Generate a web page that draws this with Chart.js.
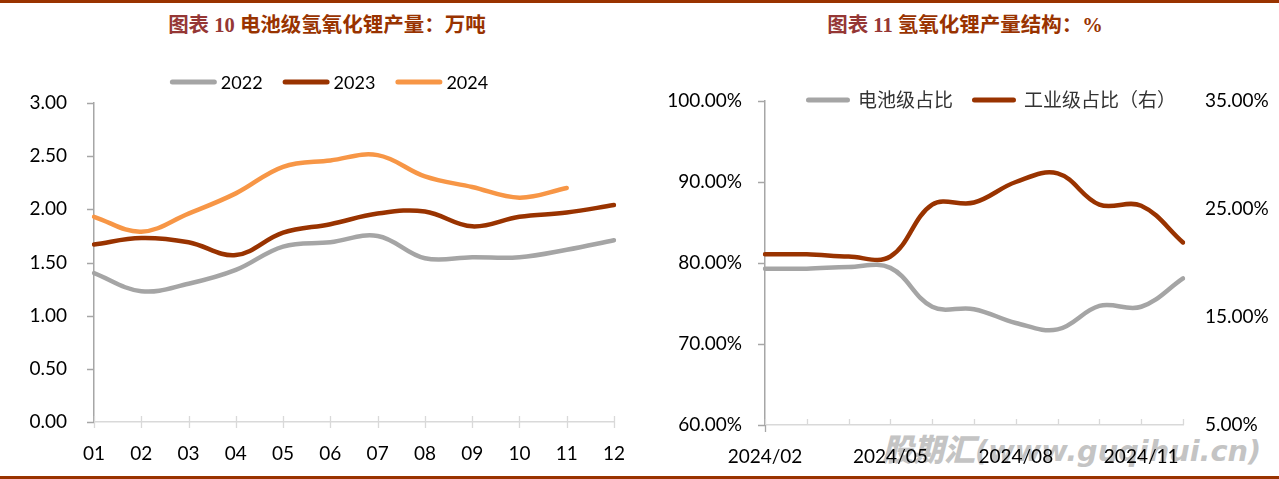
<!DOCTYPE html>
<html>
<head>
<meta charset="utf-8">
<script src="https://cdn.jsdelivr.net/npm/chart.js@4.4.1/dist/chart.umd.min.js"></script>
<style>
  html, body { margin: 0; padding: 0; background: #fff; }
  body { width: 1279px; height: 479px; position: relative; overflow: hidden; }
  .bar { position: absolute; left: 0; width: 1279px; height: 3px; background: #993300; }
  .title { position: absolute; top: 12px; height: 26px; line-height: 26px; text-align: center;
           font-family: "Liberation Serif", "Noto Sans CJK SC", serif; font-weight: bold; font-size: 20.5px; color: #993300; white-space: nowrap; }
  .title .lead { color: #953735; }
  .box { position: absolute; top: 0; height: 479px; z-index: 2; }
  .wm { position: absolute; left: 882px; top: 431px; z-index: 1; color: #c4c4c4; white-space: nowrap; line-height: 34px; font-style: italic; font-weight: bold; }
  .wm .cn { font-family: "Noto Sans CJK SC"; font-weight: 900; font-size: 31px; }
  .wm .en { font-family: "DejaVu Sans"; font-size: 28.8px; }
</style>
</head>
<body>
<div class="bar" style="top:0"></div>
<div class="bar" style="top:476px"></div>
<div class="title" style="left:0;width:654px"><span class="lead">图表 10</span> 电池级氢氧化锂产量：万吨</div>
<div class="title" style="left:651px;width:628px"><span class="lead">图表 11</span> 氢氧化锂产量结构：%</div>
<div class="wm"><span class="cn">股期汇</span><span class="en">(www.guqihui.cn)</span></div>
<div class="box" style="left:0;width:640px"><canvas id="c1"></canvas></div>
<div class="box" style="left:640px;width:639px"><canvas id="c2"></canvas></div>
<script>
// ---- data: chart 10 (万吨) ----
const months = ['01','02','03','04','05','06','07','08','09','10','11','12'];
const y2022 = [1.40, 1.23, 1.30, 1.43, 1.65, 1.69, 1.75, 1.54, 1.55, 1.55, 1.62, 1.71];
const y2023 = [1.67, 1.73, 1.69, 1.57, 1.78, 1.86, 1.96, 1.98, 1.84, 1.93, 1.97, 2.04];
const y2024 = [1.93, 1.79, 1.96, 2.15, 2.40, 2.46, 2.51, 2.31, 2.21, 2.11, 2.20];
const seriesNames1 = ['2022', '2023', '2024'];

// ---- data: chart 11 (%) ----
const periods = ['2024/02','2024/03','2024/04','2024/05','2024/06','2024/07','2024/08','2024/09','2024/10','2024/11','2024/12'];
const batteryShare = [79.3, 79.3, 79.5, 79.4, 74.6, 74.3, 72.6, 71.8, 74.7, 74.6, 78.1];
const industrialShare = [20.8, 20.8, 20.6, 20.6, 25.4, 25.6, 27.5, 28.3, 25.4, 25.3, 21.9];
const seriesNames2 = ['电池级占比', '工业级占比（右）'];

const GRAY = '#A5A5A5', BROWN = '#993300', ORANGE = '#F79646';
const AXIS_DARK = '#A6A6A6', AXIS_LIGHT = '#D9D9D9';
const tickFont = { family: 'Lato', size: 19 };

const tickMarks = {
  id: 'tickMarks',
  beforeDatasetsDraw(chart, args, opts) {
    const ctx = chart.ctx;
    ctx.save();
    for (const m of (opts.marks || [])) {
      const s = chart.scales[m.scale];
      ctx.strokeStyle = m.color;
      ctx.lineWidth = 1.3;
      ctx.beginPath();
      s.ticks.forEach((t, i) => {
        if (m.only && !m.only.includes(i)) return;
        const p = Math.round(s.getPixelForTick(i)) + 0.5;
        if (s.isHorizontal()) {
          const y = s.top;
          ctx.moveTo(p, y + m.from); ctx.lineTo(p, y + m.to);
        } else {
          const x = s.right;
          ctx.moveTo(x + m.from, p); ctx.lineTo(x + m.to, p);
        }
      });
      ctx.stroke();
    }
    ctx.restore();
  }
};

const lineLegend = {
  id: 'lineLegend',
  afterDraw(chart, args, o) {
    const ctx = chart.ctx;
    ctx.save();
    ctx.font = o.font;
    const items = chart.data.datasets.map(d => ({ text: d.label, color: d.borderColor, w: ctx.measureText(d.label).width }));
    const total = items.reduce((a, it) => a + o.lineLen + o.textGap + it.w, 0) + o.itemGap * (items.length - 1);
    let x = o.centerX - total / 2;
    ctx.textBaseline = 'middle';
    ctx.textAlign = 'left';
    items.forEach(it => {
      ctx.strokeStyle = it.color;
      ctx.lineWidth = o.lineWidth;
      ctx.lineCap = 'round';
      ctx.beginPath();
      ctx.moveTo(x + o.lineWidth / 2, o.y);
      ctx.lineTo(x + o.lineLen - o.lineWidth / 2, o.y);
      ctx.stroke();
      x += o.lineLen + o.textGap;
      ctx.fillStyle = o.color;
      ctx.fillText(it.text, x, o.y + (o.textDy || 0));
      x += it.w + o.itemGap;
    });
    ctx.restore();
  }
};

function lineDs(label, data, color, order) {
  return { label, data, borderColor: color, backgroundColor: color, borderWidth: 4.5,
           pointRadius: 0, pointHoverRadius: 0, tension: 0.38, borderCapStyle: 'round', borderJoinStyle: 'round', fill: false, order };
}

new Chart(document.getElementById('c1'), {
  type: 'line',
  data: {
    labels: months,
    datasets: [
      lineDs(seriesNames1[0], y2022, GRAY, 3),
      lineDs(seriesNames1[1], y2023, BROWN, 2),
      lineDs(seriesNames1[2], y2024, ORANGE, 1)
    ]
  },
  options: {
    responsive: true, maintainAspectRatio: false, animation: false,
    layout: { padding: { top: 103, right: 26, bottom: 0, left: 0 } },
    plugins: {
      legend: { display: false }, tooltip: { enabled: false },
      lineLegend: { y: 82, centerX: 329, lineLen: 47, textGap: 4, itemGap: 20, lineWidth: 5, font: '18px Lato', color: '#000', textDy: 1 },
      tickMarks: { marks: [
        { scale: 'x', from: -6, to: 6, color: AXIS_LIGHT },
        { scale: 'y', from: -7, to: 0, color: AXIS_DARK }
      ] }
    },
    scales: {
      x: {
        offset: false,
        grid: { display: false, drawTicks: true, tickLength: 20 },
        border: { display: true, color: AXIS_LIGHT, width: 1.5 },
        ticks: { color: '#000', font: tickFont, padding: 0, autoSkip: false, maxRotation: 0 },
        afterFit(s) { s.height = 57; }
      },
      y: {
        min: 0, max: 3,
        grid: { display: false, drawTicks: false },
        border: { display: true, color: AXIS_DARK, width: 1.5 },
        ticks: { stepSize: 0.5, color: '#000', font: tickFont, padding: 27, callback: v => Number(v).toFixed(2) },
        afterFit(s) { s.width = 94; }
      }
    }
  },
  plugins: [tickMarks, lineLegend]
});

new Chart(document.getElementById('c2'), {
  type: 'line',
  data: {
    labels: periods,
    datasets: [
      Object.assign(lineDs(seriesNames2[0], batteryShare, GRAY, 1), { yAxisID: 'y' }),
      Object.assign(lineDs(seriesNames2[1], industrialShare, BROWN, 2), { yAxisID: 'y1' })
    ]
  },
  options: {
    responsive: true, maintainAspectRatio: false, animation: false,
    layout: { padding: { top: 101, right: 0, bottom: 0, left: 0 } },
    plugins: {
      legend: { display: false }, tooltip: { enabled: false },
      lineLegend: { y: 100, centerX: 351, lineLen: 44, textGap: 8, itemGap: 19, lineWidth: 5, font: '19px "Noto Sans CJK SC"', color: '#333', textDy: 0 },
      tickMarks: { marks: [
        { scale: 'x', from: -6, to: 0, color: AXIS_LIGHT },
        { scale: 'x', from: 0, to: 7, color: AXIS_DARK, only: [0] },
        { scale: 'y', from: -7, to: 0, color: AXIS_DARK }
      ] }
    },
    scales: {
      x: {
        offset: false,
        grid: { display: false, drawTicks: true, tickLength: 20 },
        border: { display: true, color: AXIS_LIGHT, width: 1.5 },
        ticks: { color: '#000', font: tickFont, padding: 0, autoSkip: false, maxRotation: 0,
                 callback: function(v, i) { return i % 3 === 0 ? this.getLabelForValue(v) : ''; } },
        afterFit(s) { s.height = 54; }
      },
      y: {
        position: 'left', min: 60, max: 100,
        grid: { display: false, drawTicks: false },
        border: { display: true, color: AXIS_DARK, width: 1.5 },
        ticks: { stepSize: 10, color: '#000', font: tickFont, padding: 23, callback: v => Number(v).toFixed(2) + '%' },
        afterFit(s) { s.width = 125; }
      },
      y1: {
        position: 'right', min: 5, max: 35,
        grid: { display: false, drawTicks: false },
        border: { display: false },
        ticks: { stepSize: 10, color: '#000', font: tickFont, padding: 22, callback: v => Number(v).toFixed(2) + '%' },
        afterFit(s) { s.width = 96; }
      }
    }
  },
  plugins: [tickMarks, lineLegend]
});
</script>
</body>
</html>
